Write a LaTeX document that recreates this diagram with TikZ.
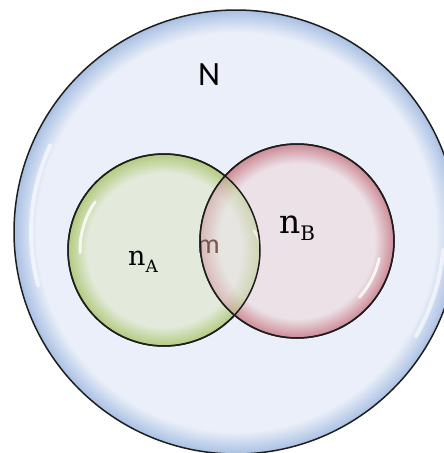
\documentclass[tikz,border=0pt]{standalone}
\usepackage{fontspec}
\newfontfamily\calib{Carlito}
\newfontfamily\dserif{DejaVu Serif}
\definecolor{bubin}{HTML}{EAEFF9}
\definecolor{bubout}{HTML}{A9C0E3}
\definecolor{grin}{HTML}{E3EADC}
\definecolor{grout}{HTML}{B2CB7E}
\definecolor{rdin}{HTML}{ECE1E7}
\definecolor{rdout}{HTML}{CD8A95}
\definecolor{edge}{HTML}{1E1E1E}
\definecolor{mcol}{HTML}{6A3F3A}
\pgfdeclareradialshading{bluebub}{\pgfpoint{0bp}{0bp}}{color(0bp)=(bubin); color(22.5bp)=(bubin); color(25bp)=(bubout); color(50bp)=(bubout)}
\pgfdeclareradialshading{greenbub}{\pgfpoint{0bp}{0bp}}{color(0bp)=(grin); color(20bp)=(grin); color(25bp)=(grout); color(50bp)=(grout)}
\pgfdeclareradialshading{redbub}{\pgfpoint{0bp}{0bp}}{color(0bp)=(rdin); color(20bp)=(rdin); color(25bp)=(rdout); color(50bp)=(rdout)}
\tikzset{
  bubble/.style={circle, inner sep=0pt, outer sep=0pt, draw=edge, line width=1.5pt},
  rim/.style={circle, inner sep=0pt, outer sep=0pt, draw=edge, line width=1.5pt},
  shine/.style={white, line width=3pt, line cap=round, opacity=0.8},
  lbl/.style={inner sep=0pt, anchor=base west}
}
\begin{document}
\begin{tikzpicture}[x=1pt,y=-1pt]
\useasboundingbox (0,0) rectangle (444,453);
% universe
\node[bubble, minimum size=444pt, shading=bluebub] (U) at (236,232) {};
\draw[shine, line width=4pt, opacity=0.6] (236,232) ++(165:205) arc (165:205:205);
\draw[shine, line width=4pt, opacity=0.6] (236,232) ++(5:208) arc (5:30:208);
% sets
\node[bubble, minimum size=192pt, shading=greenbub] (A) at (164,250) {};
\node[bubble, minimum size=194pt, shading=redbub] (B) at (297,241) {};
% overlap: green seen through
\begin{scope}
  \clip (297,241) circle (97pt);
  \node[circle, inner sep=0pt, minimum size=192pt, shading=greenbub, fill opacity=0.5] (A2) at (164,250) {};
\end{scope}
% intersection label
\node[lbl, anchor=base east, text=mcol, text opacity=0.85] (m) at (220,253) {\calib\fontsize{28}{28}\selectfont m};
% highlights
\draw[shine] (164,250) ++(178:84) arc (178:215:84);
\draw[shine] (297,241) ++(12:84) arc (12:42:84);
\draw[shine, opacity=0.6] (231,250) ++(-40:30) arc (-40:-10:30);
% outlines on top
\node[rim, minimum size=192pt] (Ao) at (164,250) {};
\node[rim, minimum size=194pt] (Bo) at (297,241) {};
% labels
\node[inner sep=0pt] (N) at (209,75) {\calib\fontsize{34}{34}\selectfont N};
\node[lbl] (nA) at (128,265) {\dserif\fontsize{27}{27}\selectfont n\raisebox{-7pt}{\fontsize{17}{17}\selectfont A}};
\node[lbl] (nB) at (279,233) {\dserif\fontsize{33}{33}\selectfont n\raisebox{-7pt}{\fontsize{20}{20}\selectfont B}};
\end{tikzpicture}
\end{document}
